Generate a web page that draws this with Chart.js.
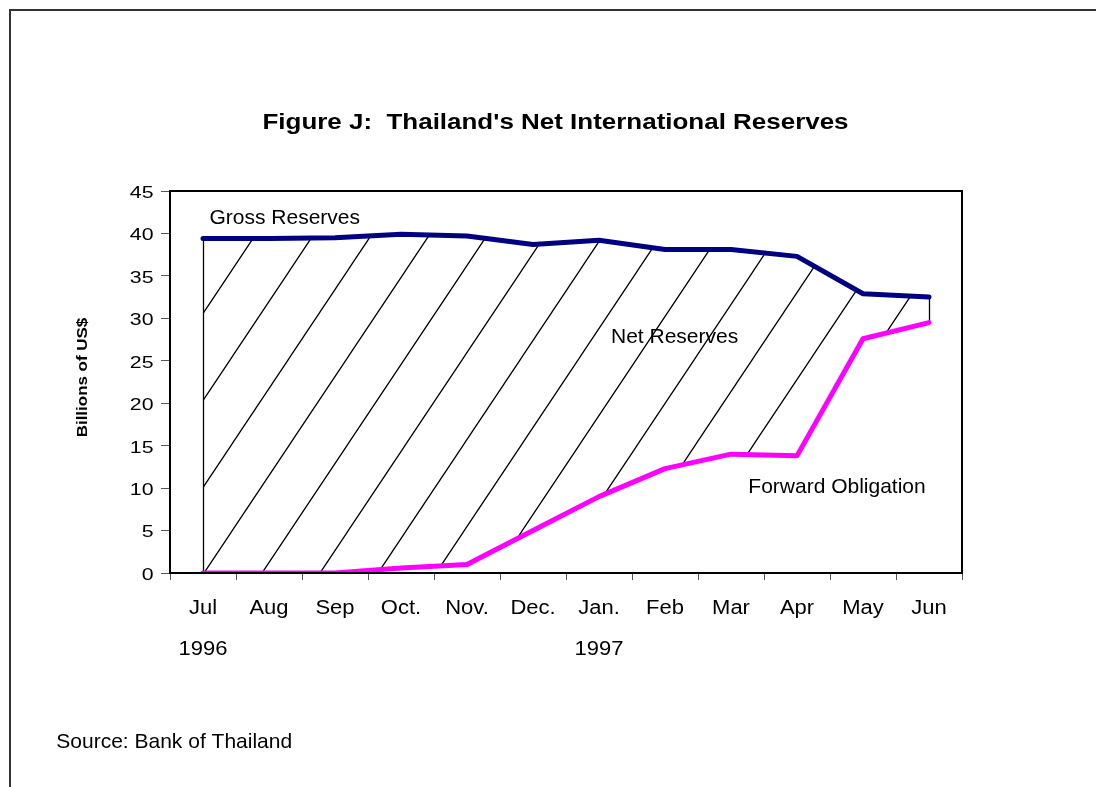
<!DOCTYPE html>
<html>
<head>
<meta charset="utf-8">
<title>Figure J: Thailand's Net International Reserves</title>
<script src="https://cdn.jsdelivr.net/npm/chart.js@4.4.1/dist/chart.umd.min.js"></script>
<style>
  html, body { margin: 0; padding: 0; background: #ffffff; }
  #chart { display: block; }
</style>
</head>
<body>
<canvas id="chart" width="1096" height="787"></canvas>
<script>
// ---- data (billions of US$) ----
const months = ['Jul', 'Aug', 'Sep', 'Oct.', 'Nov.', 'Dec.', 'Jan.', 'Feb', 'Mar', 'Apr', 'May', 'Jun'];
const years = ['1996', '', '', '', '', '', '1997', '', '', '', '', ''];
const grossReserves = [39.4, 39.4, 39.5, 39.9, 39.7, 38.7, 39.2, 38.1, 38.1, 37.3, 32.9, 32.5];
const forwardObligation = [0, 0, 0, 0.6, 1.0, 5.0, 9.0, 12.3, 14.0, 13.8, 27.6, 29.5];
const yTickValues = [0, 5, 10, 15, 20, 25, 30, 35, 40, 45];

const titleText = "Figure J:  Thailand's Net International Reserves";
const yTitleText = 'Billions of US$';
const grossLabel = 'Gross Reserves';
const netLabel = 'Net Reserves';
const forwardLabel = 'Forward Obligation';
const sourceText = 'Source: Bank of Thailand';

const FONT = '"Liberation Sans", Arial, Helvetica, sans-serif';
Chart.defaults.font.family = FONT;
Chart.defaults.color = '#000';

const canvas = document.getElementById('chart');
const ctx = canvas.getContext('2d');

// Wide lettering: some font sizes are drawn horizontally expanded about their anchor.
const WIDEN_BY_SIZE = { '16': 1.33, '20': 1.1, '22': 1.18, '15': 1.13 };
const plainFillText = ctx.fillText;
ctx.fillText = function (text, x, y, maxWidth) {
  const m = /(\d+(?:\.\d+)?)px/.exec(this.font);
  const k = m ? (WIDEN_BY_SIZE[m[1]] || 1) : 1;
  if (k === 1) {
    return maxWidth === undefined
      ? plainFillText.call(this, text, x, y)
      : plainFillText.call(this, text, x, y, maxWidth);
  }
  this.save();
  this.translate(x, y);
  this.scale(k, 1);
  plainFillText.call(this, text, 0, 0);
  this.restore();
};

// Diagonal hatching for the band between the two series.
function makeHatch(context) {
  const w = 58, h = 87;
  const tile = document.createElement('canvas');
  tile.width = w;
  tile.height = h;
  const t = tile.getContext('2d');
  t.strokeStyle = '#000';
  t.lineWidth = 1.25;
  t.beginPath();
  for (const c of [0, h, 2 * h]) {
    t.moveTo(-w, c + h);
    t.lineTo(2 * w, c - 2 * h);
  }
  t.stroke();
  const p = context.createPattern(tile, 'repeat');
  p.setTransform(new DOMMatrix([1, 0, 0, 1, 0, 9]));
  return p;
}
const hatch = makeHatch(ctx);

function text(c, str, x, y, font, align) {
  c.font = font;
  c.textAlign = align || 'left';
  c.textBaseline = 'alphabetic';
  c.fillStyle = '#000';
  c.fillText(str, x, y);
}

const decorations = {
  id: 'decorations',
  beforeDatasetsDraw(chart) {
    // vertical edges of the hatched band at both ends
    const { ctx: c, scales: { x, y } } = chart;
    c.save();
    c.strokeStyle = '#000';
    c.lineWidth = 1.3;
    for (const i of [0, months.length - 1]) {
      const px = Math.round(x.getPixelForValue(i)) + 0.5;
      c.beginPath();
      c.moveTo(px, y.getPixelForValue(grossReserves[i]));
      c.lineTo(px, y.getPixelForValue(forwardObligation[i]));
      c.stroke();
    }
    c.restore();
  },
  afterDraw(chart) {
    const c = chart.ctx;
    const a = chart.chartArea;
    c.save();
    // outer frame
    c.strokeStyle = '#333';
    c.lineWidth = 2;
    c.strokeRect(10, 10, 1200, 900);
    // plot box
    c.strokeStyle = '#000';
    c.lineWidth = 2;
    c.strokeRect(a.left, a.top, a.right - a.left, a.bottom - a.top);

    text(c, titleText, 555.5, 129.3, 'bold 22px ' + FONT, 'center');

    c.save();
    c.translate(86.5, 377.5);
    c.rotate(-Math.PI / 2);
    text(c, yTitleText, 0, 0, 'bold 15px ' + FONT, 'center');
    c.restore();

    text(c, grossLabel, 209.5, 223.5, '21px ' + FONT);
    text(c, netLabel, 611, 342.7, '21px ' + FONT);
    text(c, forwardLabel, 748.3, 493.3, '21px ' + FONT);
    text(c, sourceText, 56.3, 747.5, '21px ' + FONT);
    c.restore();
  }
};

new Chart(ctx, {
  type: 'line',
  data: {
    labels: months.map((m, i) => (years[i] ? [m, years[i]] : m)),
    datasets: [
      {
        label: grossLabel,
        data: grossReserves,
        borderColor: '#000080',
        borderWidth: 5,
        borderCapStyle: 'round',
        borderJoinStyle: 'round',
        pointRadius: 0,
        tension: 0,
        fill: '+1',
        backgroundColor: hatch
      },
      {
        label: forwardLabel,
        data: forwardObligation,
        borderColor: '#ff00ff',
        borderWidth: 5,
        borderCapStyle: 'round',
        borderJoinStyle: 'round',
        pointRadius: 0,
        tension: 0,
        fill: false
      }
    ]
  },
  options: {
    responsive: false,
    animation: false,
    devicePixelRatio: 1,
    layout: { padding: { left: 0, top: 191, right: 134, bottom: 0 } },
    plugins: {
      legend: { display: false },
      tooltip: { enabled: false },
      title: { display: false },
      filler: { drawTime: 'beforeDatasetsDraw' }
    },
    scales: {
      x: {
        offset: true,
        grid: { offset: true, drawOnChartArea: false, drawTicks: true, tickLength: 7, color: '#555', lineWidth: 1 },
        border: { display: false },
        ticks: {
          autoSkip: false,
          maxRotation: 0,
          padding: 8,
          color: '#000',
          font: { size: 20, lineHeight: 2.05 }
        },
        afterFit(scale) { scale.height = 214; }
      },
      y: {
        min: 0,
        max: 45,
        grid: { drawOnChartArea: false, drawTicks: true, tickLength: 9, color: '#555', lineWidth: 1 },
        border: { display: false },
        ticks: {
          padding: 7.5,
          labelOffset: 2.5,
          color: '#000',
          font: { size: 16 }
        },
        afterBuildTicks(scale) { scale.ticks = yTickValues.map(v => ({ value: v })); },
        afterFit(scale) { scale.width = 170; }
      }
    }
  },
  plugins: [decorations]
});
</script>
</body>
</html>
